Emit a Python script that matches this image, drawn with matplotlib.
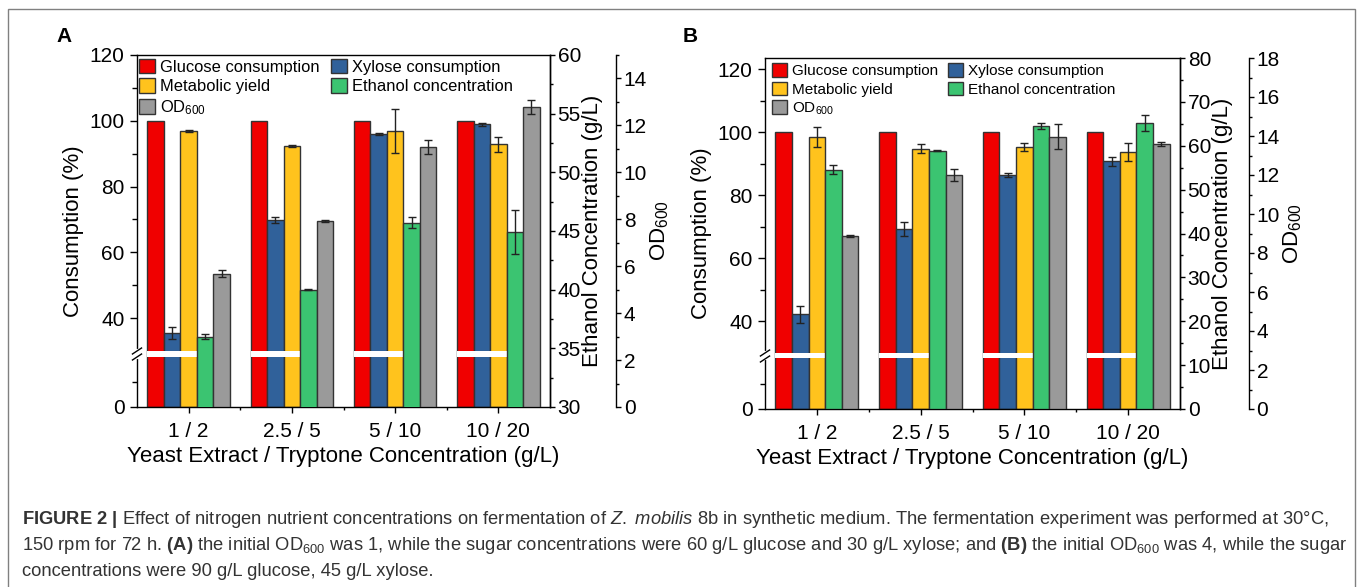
import matplotlib
matplotlib.use('Agg')
import matplotlib.pyplot as plt
from matplotlib.patches import Patch, Rectangle
from matplotlib.ticker import FixedLocator, MultipleLocator
from matplotlib.transforms import blended_transform_factory
import numpy as np

plt.rcParams['font.family'] = ['Liberation Sans', 'DejaVu Sans']
plt.rcParams['mathtext.fontset'] = 'custom'
plt.rcParams['mathtext.rm'] = 'Liberation Sans'
plt.rcParams['mathtext.it'] = 'Liberation Sans:italic'
plt.rcParams['mathtext.bf'] = 'Liberation Sans:bold'

groups = ['1 / 2', '2.5 / 5', '5 / 10', '10 / 20']
series = ['Glucose consumption', 'Xylose consumption', 'Metabolic yield',
          'Ethanol concentration', 'OD$_{600}$']
colors = ['#F00000', '#30619A', '#FFC31D', '#3BC471', '#9A9A9A']

# panel A : 1 OD start, 60 g/L glucose + 30 g/L xylose
glu_A = [100, 100, 100, 100]
xyl_A = [35.5, 69.8, 95.9, 98.9]
xyl_A_err = [1.8, 1.0, 0.3, 0.5]
met_A = [96.8, 92.3, 96.9, 92.8]
met_A_err = [0.3, 0.4, 6.6, 2.3]
eth_A = [36.0, 40.0, 45.7, 44.9]
eth_A_err = [0.2, 0.05, 0.47, 1.9]
od_A = [5.67, 7.92, 11.08, 12.78]
od_A_err = [0.15, 0.03, 0.3, 0.3]

# panel B : 4 OD start, 90 g/L glucose + 45 g/L xylose
glu_B = [100, 100, 100, 100]
xyl_B = [42.3, 69.3, 86.4, 90.8]
xyl_B_err = [2.7, 2.2, 0.5, 1.4]
met_B = [98.4, 94.7, 95.3, 93.8]
met_B_err = [3.2, 1.4, 1.4, 2.9]
eth_B = [54.5, 58.9, 64.5, 65.2]
eth_B_err = [1.0, 0.2, 0.6, 1.8]
od_B = [8.87, 12.0, 13.95, 13.6]
od_B_err = [0.05, 0.3, 0.64, 0.1]

W, H = 1360, 587
fig = plt.figure(figsize=(W / 100, H / 100), dpi=100)

x = np.arange(1, len(groups) + 1)
bw = 0.16
offs = np.array([-2, -1, 0, 1, 2]) * bw
ekw = dict(elinewidth=1, capthick=1, ecolor='#222222')


def panel(rect, data, errs, anchors, ylim, eth_lim, eth_step, od_lim, od_step, od_pos, leg_fs, leg_anchor,
          letter, letter_xy):
    ax = fig.add_axes(rect)
    vals, hts = anchors
    fwd = lambda v: np.interp(v, vals, hts)
    inv = lambda h: np.interp(h, hts, vals)
    ax.set_yscale('function', functions=(fwd, inv))

    ax2 = ax.twinx()
    ax3 = ax.twinx()
    ax3.spines['right'].set_position(('axes', od_pos))
    for a in (ax2, ax3):
        for s in ('left', 'top', 'bottom'):
            a.spines[s].set_visible(False)

    targets = [ax, ax, ax, ax2, ax3]
    for i in range(5):
        targets[i].bar(x + offs[i], data[i], bw, yerr=errs[i], color=colors[i],
                       edgecolor='#333333', linewidth=1, capsize=3, error_kw=ekw, zorder=2)

    ax.set_xlim(0.5, 4.5)
    ax.set_ylim(*ylim)
    ax2.set_ylim(*eth_lim)
    ax3.set_ylim(*od_lim)

    # white break stripe through the left-axis bars
    for xi in x:
        ax.add_patch(Rectangle((xi - 2.5 * bw, 20), 3 * bw, 10, facecolor='white',
                               edgecolor='none', zorder=5))
    tr = blended_transform_factory(ax.transAxes, ax.transData)
    ax.plot([0, 0], [20, 30], color='white', lw=3, transform=tr, clip_on=False, zorder=6)
    for h0 in (47, 53):
        ax.plot([-0.011, 0.011], [inv(h0), inv(h0 + 6)], color='black', lw=1,
                transform=tr, clip_on=False, zorder=7)

    ax.yaxis.set_major_locator(FixedLocator([0, 40, 60, 80, 100, 120]))
    ax.yaxis.set_minor_locator(FixedLocator([10, 50, 70, 90, 110]))
    ax.yaxis.set_major_formatter(plt.FuncFormatter(lambda v, p: '%d' % v))
    ax.yaxis.set_minor_formatter(plt.NullFormatter())
    ax.set_xticks(x)
    ax.set_xticklabels(groups)
    ax.xaxis.set_minor_locator(FixedLocator([1.5, 2.5, 3.5]))

    ax2.yaxis.set_major_locator(MultipleLocator(eth_step))
    ax2.yaxis.set_minor_locator(MultipleLocator(eth_step / 2))
    ax3.yaxis.set_major_locator(MultipleLocator(od_step))
    ax3.yaxis.set_minor_locator(MultipleLocator(od_step / 2))

    for a in (ax, ax2, ax3):
        for s in a.spines.values():
            s.set_linewidth(1)
    ax.tick_params(which='major', direction='out', length=5, width=1, labelsize=15, pad=4)
    ax.tick_params(which='minor', direction='out', length=3.5, width=1)
    ax.tick_params(axis='x', which='major', length=4.5, pad=6)
    ax.tick_params(axis='x', which='minor', length=2.5)
    for a in (ax2, ax3):
        a.tick_params(which='major', direction='out', length=3.5, width=1, labelsize=15, pad=2)
        a.tick_params(which='minor', direction='out', length=2.5, width=1)

    ax.set_ylabel('Consumption (%)', fontsize=16, labelpad=4)
    ax2.set_ylabel('Ethanol Concentration (g/L)', fontsize=16, labelpad=1)
    ax3.set_ylabel('OD$_{600}$', fontsize=16, labelpad=1)
    ax.set_xlabel('Yeast Extract / Tryptone Concentration (g/L)', fontsize=16, labelpad=4)

    handles = [Patch(facecolor=c, edgecolor='#333333', linewidth=1) for c in colors]
    order = [0, 2, 4, 1, 3]
    ax3.legend([handles[k] for k in order], [series[k] for k in order], ncol=2,
               loc='upper left', bbox_to_anchor=leg_anchor, frameon=False, fontsize=leg_fs,
               handlelength=1.0, handleheight=1.0, handletextpad=0.3, labelspacing=0.22,
               columnspacing=0.65, borderaxespad=0, borderpad=0)

    fig.text(letter_xy[0] / W, 1 - letter_xy[1] / H, letter, fontsize=15, fontweight='bold',
             ha='center', va='center')
    return ax


panel([137 / W, 1 - 407 / H, 413 / W, 352 / H],
      [glu_A, xyl_A, met_A, eth_A, od_A],
      [None, xyl_A_err, met_A_err, eth_A_err, od_A_err],
      ([0, 20, 30, 120, 140], [0, 50, 56, 352, 418]),
      (0, 120), (30, 60), 5, (0, 15), 2, 1.16, 11.9, (0.004, 0.99), 'A', (64, 36))

panel([765 / W, 1 - 409 / H, 415 / W, 351 / H],
      [glu_B, xyl_B, met_B, eth_B, od_B],
      [None, xyl_B_err, met_B_err, eth_B_err, od_B_err],
      ([0, 20, 30, 120, 140], [0, 51, 56, 340, 403]),
      (0, 123.5), (0, 80), 10, (0, 18), 2, 1.166, 11.0, (0.017, 0.985), 'B', (690, 36.5))

# figure frame
fig.add_artist(Rectangle((8 / W, -0.05), (1355 - 8) / W, 0.05 + (H - 9) / H, transform=fig.transFigure,
                         fill=False, edgecolor='#808080', linewidth=1))

caption = [
    r'$\bf{FIGURE\ 2\ |}$ Effect of nitrogen nutrient concentrations on fermentation of $\it{Z.\ mobilis}$ 8b in synthetic medium. The fermentation experiment was performed at 30°C,',
    r'150 rpm for 72 h. $\bf{(A)}$ the initial OD$_{600}$ was 1, while the sugar concentrations were 60 g/L glucose and 30 g/L xylose; and $\bf{(B)}$ the initial OD$_{600}$ was 4, while the sugar',
    r'concentrations were 90 g/L glucose, 45 g/L xylose.',
]
for k, line in enumerate(caption):
    fig.text(22 / W, 1 - (520 + 25.5 * k) / H, line, fontsize=13.2, color='#333333', ha='left', va='center')

fig.savefig('out.png', dpi=100)
